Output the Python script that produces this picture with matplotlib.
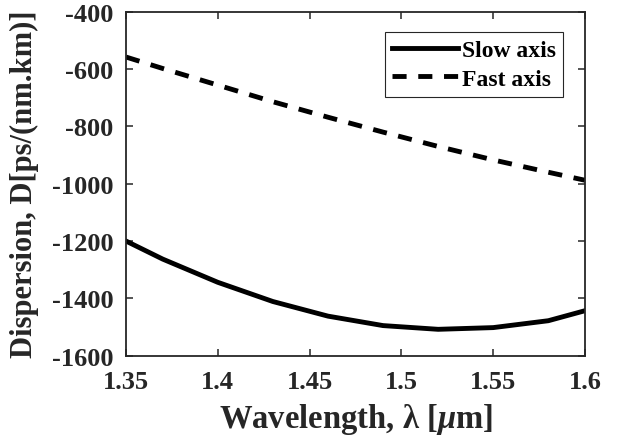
import matplotlib
matplotlib.use("Agg")
import matplotlib.pyplot as plt

# wavelength grid (um) and dispersion for the two polarisation axes
wavelength = [1.35, 1.37, 1.40, 1.43, 1.46, 1.49, 1.52, 1.55, 1.58, 1.60]
slow_axis = [-1200, -1263, -1344, -1411, -1462, -1495, -1508, -1502, -1478, -1443]
fast_axis = [-558, -598, -656, -714, -768, -820, -870, -917, -960, -988]

xticks = [1.35, 1.4, 1.45, 1.5, 1.55, 1.6]
yticks = [-1600, -1400, -1200, -1000, -800, -600, -400]

INK = "#262626"
plt.rcParams["font.family"] = ["Liberation Serif", "DejaVu Serif"]
plt.rcParams["font.weight"] = "bold"
plt.rcParams["text.color"] = INK
plt.rcParams["mathtext.fontset"] = "custom"
plt.rcParams["mathtext.rm"] = "Liberation Serif:bold"
plt.rcParams["mathtext.it"] = "Liberation Serif:italic:bold"

fig = plt.figure(figsize=(6.28, 4.39), dpi=100)
ax = fig.add_axes([0.2006, 0.1875, 0.731, 0.7835])

ax.plot(wavelength, slow_axis, color="black", lw=3.5, label="Slow axis")
ax.plot(wavelength, fast_axis, color="black", lw=3.5, dashes=(2.9, 2.4),
        dash_capstyle="butt", label="Fast axis")

ax.set_xlim(1.35, 1.6)
ax.set_ylim(-1600, -400)
ax.set_xticks(xticks, [f"{v:g}" for v in xticks])
ax.set_yticks(yticks, [f"{v:d}" for v in yticks])
ax.tick_params(direction="in", length=5, width=1.1, top=True, right=True,
               labelsize=19, color=INK, labelcolor=INK)
ax.tick_params(axis="x", pad=10)
ax.tick_params(axis="y", pad=9)
for sp in ax.spines.values():
    sp.set_linewidth(1.3)
    sp.set_color(INK)

ax.set_xlabel(r"Wavelength, λ [$\mu$m]", fontsize=23.5, fontweight="bold",
              color=INK, labelpad=6)
ax.set_ylabel("Dispersion, D[ps/(nm.km)]", fontsize=22, fontweight="bold",
              color=INK, labelpad=9)

leg = ax.legend(loc="upper right", bbox_to_anchor=(0.952, 0.940), borderaxespad=0,
                fontsize=17, frameon=True, fancybox=False, framealpha=1,
                edgecolor=INK, handlelength=2.8, handletextpad=0.15,
                borderpad=0.3, labelspacing=0.3)
leg.get_frame().set_linewidth(0.8)
for t in leg.get_texts():
    t.set_color("black")

fig.savefig("out.png", dpi=100)
